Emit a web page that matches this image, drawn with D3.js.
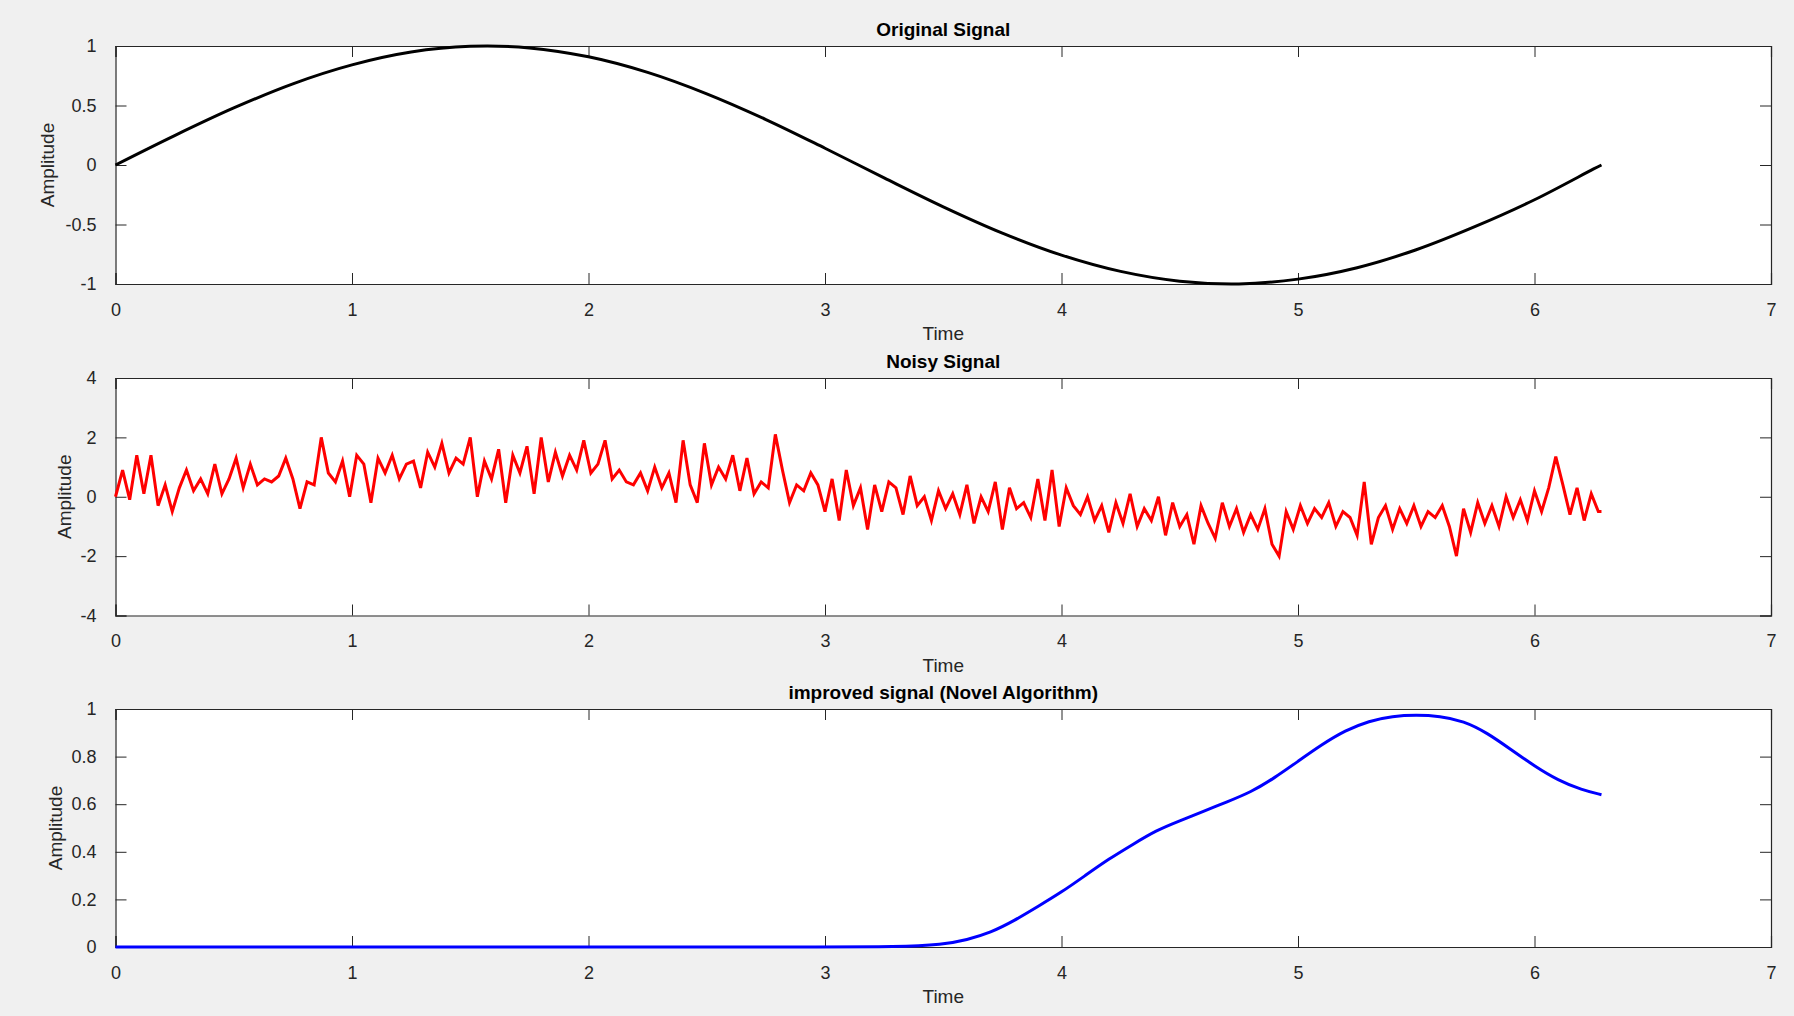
<!DOCTYPE html>
<html><head><meta charset="utf-8">
<script src="https://cdn.jsdelivr.net/npm/d3@7"></script>
<style>body{margin:0;background:#f0f0f0;}svg{display:block;font-family:"Liberation Sans",Arial,sans-serif;}</style>
</head><body><svg id="c" width="1794" height="1016"></svg>
<script>
const origT = [0,0.25,0.5,0.75,1,1.25,1.5,1.75,2,2.25,2.5,2.75,3,3.25,3.5,3.75,4,4.25,4.5,4.75,5,5.25,5.5,5.75,6,6.25,6.2832];
const origV = [0,0.247,0.479,0.682,0.841,0.949,0.997,0.984,0.909,0.778,0.598,0.382,0.141,-0.108,-0.351,-0.572,-0.757,-0.894,-0.976,-0.999,-0.959,-0.863,-0.712,-0.516,-0.292,-0.033,0];
const noisyStep = 0.03;
const noisyV = [
0,0.9,-0.1,1.4,0.1,1.4,-0.3,0.4,-0.5,0.3,
0.9,0.2,0.6,0.1,1.1,0.1,0.6,1.3,0.3,1.1,
0.4,0.6,0.5,0.7,1.3,0.6,-0.4,0.5,0.4,2.0,
0.8,0.5,1.2,0.0,1.4,1.1,-0.2,1.3,0.8,1.4,
0.6,1.1,1.2,0.3,1.5,1.0,1.8,0.8,1.3,1.1,
2.0,0.0,1.2,0.6,1.6,-0.2,1.4,0.8,1.7,0.1,
2.0,0.5,1.5,0.7,1.4,0.9,1.9,0.8,1.1,1.9,
0.6,0.9,0.5,0.4,0.8,0.2,1.0,0.3,0.8,-0.2,
1.9,0.4,-0.2,1.8,0.4,1.0,0.6,1.4,0.2,1.3,
0.1,0.5,0.3,2.1,0.9,-0.2,0.4,0.2,0.8,0.4,
-0.5,0.6,-0.8,0.9,-0.3,0.3,-1.1,0.4,-0.5,0.5,
0.3,-0.6,0.7,-0.3,0.0,-0.8,0.2,-0.4,0.1,-0.6,
0.4,-0.9,0.0,-0.5,0.5,-1.1,0.3,-0.4,-0.2,-0.7,
0.6,-0.8,0.9,-1.0,0.3,-0.3,-0.6,0.0,-0.8,-0.3,
-1.2,-0.2,-0.9,0.1,-1.0,-0.4,-0.8,0.0,-1.3,-0.2,
-1.0,-0.6,-1.6,-0.3,-0.9,-1.4,-0.2,-1.0,-0.4,-1.2,
-0.6,-1.1,-0.4,-1.6,-2.0,-0.5,-1.1,-0.3,-0.9,-0.4,
-0.7,-0.2,-1.0,-0.5,-0.7,-1.3,0.5,-1.6,-0.7,-0.3,
-1.1,-0.4,-0.9,-0.3,-1.0,-0.5,-0.7,-0.3,-1.0,-2.0,
-0.4,-1.2,-0.2,-0.9,-0.3,-1.0,0.0,-0.7,-0.1,-0.8,
0.2,-0.5,0.3,1.35,0.4,-0.6,0.3,-0.8,0.1,-0.5,-0.5];
const impT = [0,1,2,3,3.3,3.5,3.6,3.7,3.8,3.9,4.0,4.1,4.2,4.3,4.4,4.5,4.6,4.7,4.8,4.9,5.0,5.1,5.2,5.3,5.4,5.5,5.6,5.7,5.8,5.9,6.0,6.1,6.2,6.2832];
const impV = [0,0,0,0,0,0.01,0.03,0.06,0.11,0.17,0.23,0.30,0.37,0.43,0.49,0.53,0.57,0.61,0.65,0.71,0.78,0.85,0.91,0.95,0.97,0.975,0.97,0.95,0.90,0.83,0.76,0.70,0.66,0.64];
const xTicks = [0,1,2,3,4,5,6,7];

const svg = d3.select("#c");
const L = 115.5, R = 1771;
const x = d3.scaleLinear().domain([0,7]).range([L,R]);
const fmt = d => String(d);
const panels = [
 {top:46,bot:284,title:"Original Signal",dom:[-1,1],ticks:[-1,-0.5,0,0.5,1],ylx:54,
  data:origT.map((t,i)=>[t,origV[i]]),color:"#000",curve:d3.curveCatmullRom},
 {top:378,bot:615.5,title:"Noisy Signal",dom:[-4,4],ticks:[-4,-2,0,2,4],ylx:71,
  data:noisyV.map((v,i)=>[Math.min(i*noisyStep,6.2832),v]),color:"#ff0000",curve:d3.curveLinear},
 {top:709,bot:947,title:"improved signal (Novel Algorithm)",dom:[0,1],ticks:[0,0.2,0.4,0.6,0.8,1],ylx:62,
  data:impT.map((t,i)=>[t,impV[i]]),color:"#0000ff",curve:d3.curveBasis}
];
panels.forEach(p=>{
  const y = d3.scaleLinear().domain(p.dom).range([p.bot,p.top]);
  const g = svg.append("g");
  g.append("rect").attr("x",L).attr("y",p.top).attr("width",R-L).attr("height",p.bot-p.top).attr("fill","#fff");
  const tk = 11;
  const ax = [
    d3.axisBottom(x).tickValues(xTicks).tickSize(-tk).tickPadding(tk+8).tickFormat(fmt),
    d3.axisTop(x).tickValues(xTicks).tickSize(-tk).tickFormat(""),
    d3.axisLeft(y).tickValues(p.ticks).tickSize(-tk).tickPadding(tk+8).tickFormat(fmt),
    d3.axisRight(y).tickValues(p.ticks).tickSize(-tk).tickFormat("")
  ];
  const tr = [`translate(0,${p.bot})`,`translate(0,${p.top})`,`translate(${L},0)`,`translate(${R},0)`];
  ax.forEach((a,i)=>{
    const ag = g.append("g").attr("transform",tr[i]).call(a);
    ag.select(".domain").attr("stroke","#262626").attr("stroke-width",1.2);
    ag.selectAll(".tick line").attr("stroke","#262626");
    ag.selectAll("text").attr("font-size",18).attr("fill","#262626");
  });
  g.append("path").datum(p.data).attr("fill","none").attr("stroke",p.color).attr("stroke-width",3)
   .attr("d",d3.line().x(d=>x(d[0])).y(d=>y(d[1])).curve(p.curve));
  g.append("text").attr("x",(L+R)/2).attr("y",p.top-10).attr("text-anchor","middle")
   .attr("font-size",19).attr("font-weight","bold").attr("fill","#000").text(p.title);
  g.append("text").attr("x",(L+R)/2).attr("y",p.bot+56).attr("text-anchor","middle")
   .attr("font-size",19).attr("fill","#262626").text("Time");
  g.append("text").attr("transform",`translate(${p.ylx},${(p.top+p.bot)/2}) rotate(-90)`).attr("text-anchor","middle")
   .attr("font-size",19).attr("fill","#262626").text("Amplitude");
});
</script></body></html>
